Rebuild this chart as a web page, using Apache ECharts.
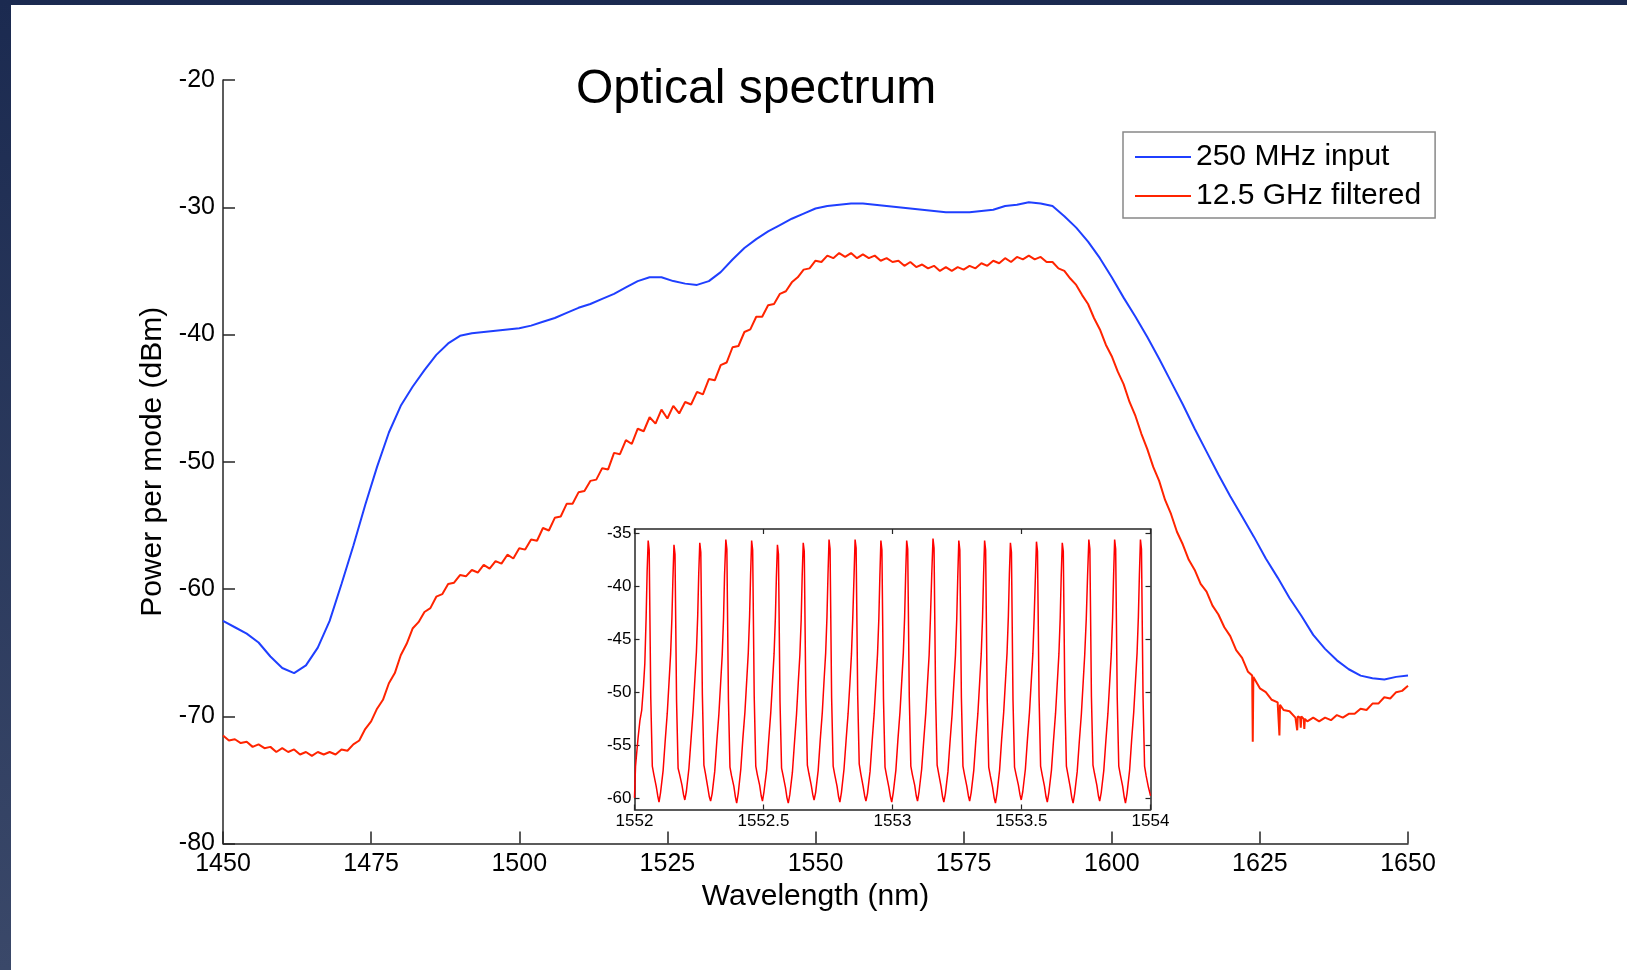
<!DOCTYPE html>
<html>
<head>
<meta charset="utf-8">
<title>Optical spectrum</title>
<script src="https://cdn.jsdelivr.net/npm/echarts@6/dist/echarts.min.js"></script>
<style>
  html, body { margin:0; padding:0; width:1627px; height:970px; overflow:hidden;
    background: linear-gradient(to bottom, #1b2a50, #3a4869); }
  #paper { position:absolute; left:11px; top:5px; right:0; bottom:0; background:#fff; }
  #chart { position:absolute; left:0; top:0; width:1627px; height:970px; }
</style>
</head>
<body>
<div id="paper"></div>
<div id="chart"></div>
<script>
// 250 MHz input (blue), read every 2 nm
var blueWl = [1450,1452,1454,1456,1458,1460,1462,1464,1466,1468,
  1470,1472,1474,1476,1478,1480,1482,1484,1486,1488,
  1490,1492,1494,1496,1498,1500,1502,1504,1506,1508,
  1510,1512,1514,1516,1518,1520,1522,1524,1526,1528,
  1530,1532,1534,1536,1538,1540,1542,1544,1546,1548,
  1550,1552,1554,1556,1558,1560,1562,1564,1566,1568,
  1570,1572,1574,1576,1578,1580,1582,1584,1586,1588,
  1590,1592,1594,1596,1598,1600,1602,1604,1606,1608,
  1610,1612,1614,1616,1618,1620,1622,1624,1626,1628,
  1630,1632,1634,1636,1638,1640,1642,1644,1646,1648,
  1650];
var blueDbm = [-62.5,-63.0,-63.5,-64.2,-65.3,-66.2,-66.6,-66.0,-64.6,-62.5,
  -59.6,-56.6,-53.4,-50.4,-47.7,-45.6,-44.1,-42.8,-41.6,-40.7,
  -40.1,-39.9,-39.8,-39.7,-39.6,-39.5,-39.3,-39.0,-38.7,-38.3,
  -37.9,-37.6,-37.2,-36.8,-36.3,-35.8,-35.5,-35.5,-35.8,-36.0,
  -36.1,-35.8,-35.1,-34.1,-33.2,-32.5,-31.9,-31.4,-30.9,-30.5,
  -30.1,-29.9,-29.8,-29.7,-29.7,-29.8,-29.9,-30.0,-30.1,-30.2,
  -30.3,-30.4,-30.4,-30.4,-30.3,-30.2,-29.9,-29.8,-29.6,-29.7,
  -29.9,-30.7,-31.6,-32.7,-34.0,-35.5,-37.1,-38.6,-40.2,-41.9,
  -43.7,-45.5,-47.4,-49.2,-51.0,-52.7,-54.3,-55.9,-57.6,-59.1,
  -60.7,-62.1,-63.6,-64.7,-65.6,-66.3,-66.8,-67.0,-67.1,-66.9,
  -66.8];

// 12.5 GHz filtered (red), read every 1 nm plus the narrow dips near 1625-1633 nm
var redWl = [1450,1451,1452,1453,1454,1455,1456,1457,1458,1459,
  1460,1461,1462,1463,1464,1465,1466,1467,1468,1469,
  1470,1471,1472,1473,1474,1475,1476,1477,1478,1479,
  1480,1481,1482,1483,1484,1485,1486,1487,1488,1489,
  1490,1491,1492,1493,1494,1495,1496,1497,1498,1499,
  1500,1501,1502,1503,1504,1505,1506,1507,1508,1509,
  1510,1511,1512,1513,1514,1515,1516,1517,1518,1519,
  1520,1521,1522,1523,1524,1525,1526,1527,1528,1529,
  1530,1531,1532,1533,1534,1535,1536,1537,1538,1539,
  1540,1541,1542,1543,1544,1545,1546,1547,1548,1549,
  1550,1551,1552,1553,1554,1555,1556,1557,1558,1559,
  1560,1561,1562,1563,1564,1565,1566,1567,1568,1569,
  1570,1571,1572,1573,1574,1575,1576,1577,1578,1579,
  1580,1581,1582,1583,1584,1585,1586,1587,1588,1589,
  1590,1591,1592,1593,1594,1595,1596,1597,1598,1599,
  1600,1601,1602,1603,1604,1605,1606,1607,1608,1609,
  1610,1611,1612,1613,1614,1615,1616,1617,1618,1619,
  1620,1621,1622,1623,1623.7,1623.8,1623.9,
  1624,1625,1626,1627,1628,1628.2,1628.3,1628.4,
  1629,1630,1631,1631.2,1631.3,1631.4,1631.8,1631.9,1632,1632.4,1632.5,1632.6,
  1633,1634,1635,1636,1637,1638,1639,1640,1641,1642,
  1643,1644,1645,1646,1647,1648,1649,1650];
var redDbm = [-71.5,-71.9,-71.8,-72.1,-72.0,-72.4,-72.2,-72.5,-72.4,-72.8,
  -72.5,-72.8,-72.6,-73.0,-72.8,-73.1,-72.8,-73.0,-72.8,-73.0,
  -72.6,-72.7,-72.2,-71.9,-71.0,-70.4,-69.4,-68.7,-67.4,-66.6,
  -65.2,-64.3,-63.1,-62.6,-61.8,-61.5,-60.6,-60.4,-59.6,-59.5,
  -58.9,-59.0,-58.5,-58.7,-58.1,-58.4,-57.8,-58.0,-57.3,-57.6,
  -56.8,-56.9,-56.1,-56.2,-55.2,-55.4,-54.4,-54.3,-53.3,-53.3,
  -52.4,-52.3,-51.5,-51.4,-50.5,-50.6,-49.3,-49.4,-48.3,-48.6,
  -47.4,-47.6,-46.5,-47.0,-45.9,-46.6,-45.6,-46.2,-45.3,-45.5,
  -44.5,-44.7,-43.5,-43.6,-42.4,-42.2,-41.0,-40.9,-39.8,-39.6,
  -38.6,-38.6,-37.7,-37.6,-36.8,-36.6,-35.9,-35.5,-34.9,-34.8,
  -34.2,-34.3,-33.8,-34.0,-33.6,-33.9,-33.6,-34.0,-33.7,-34.0,
  -33.8,-34.2,-34.0,-34.3,-34.2,-34.6,-34.3,-34.7,-34.5,-34.8,
  -34.6,-35.0,-34.7,-35.0,-34.7,-34.9,-34.6,-34.8,-34.4,-34.6,
  -34.2,-34.4,-34.0,-34.3,-33.9,-34.1,-33.8,-34.1,-33.9,-34.3,
  -34.3,-34.8,-35.0,-35.6,-36.1,-36.9,-37.6,-38.7,-39.6,-40.8,
  -41.7,-42.9,-43.9,-45.3,-46.4,-47.8,-49.0,-50.4,-51.5,-53.0,
  -54.1,-55.5,-56.5,-57.7,-58.5,-59.6,-60.2,-61.3,-62.0,-63.0,
  -63.7,-64.8,-65.4,-66.5,-66.8,-72.0,-66.9,
  -66.9,-67.8,-68.1,-68.7,-68.9,-69.0,-71.5,-69.1,
  -69.5,-69.6,-70.1,-70.0,-71.1,-70.0,-70.1,-70.9,-70.0,-70.2,-71.0,-70.2,
  -70.4,-70.1,-70.4,-70.1,-70.3,-69.9,-70.1,-69.8,-69.8,-69.4,
  -69.5,-69.0,-69.0,-68.5,-68.6,-68.1,-68.0,-67.6];

// inset: 1552 - 1554 nm, one line per mode (12.5 GHz ~ 0.1 nm)
var insetWl = [1552.000,1552.004,1552.008,1552.014,1552.021,1552.028,1552.035,1552.040,1552.045,1552.049,
  1552.053,1552.057,1552.063,1552.069,1552.075,1552.084,1552.090,1552.095,1552.101,1552.111,1552.119,1552.127,1552.134,1552.140,1552.145,1552.149,
  1552.153,1552.157,1552.163,1552.169,1552.175,1552.184,1552.190,1552.195,1552.201,1552.211,1552.219,1552.227,1552.234,1552.240,1552.245,1552.249,
  1552.253,1552.257,1552.263,1552.269,1552.275,1552.284,1552.290,1552.295,1552.301,1552.311,1552.319,1552.327,1552.334,1552.340,1552.345,1552.349,
  1552.354,1552.358,1552.364,1552.370,1552.376,1552.385,1552.391,1552.396,1552.402,1552.412,1552.420,1552.428,1552.435,1552.441,1552.446,1552.450,
  1552.454,1552.458,1552.464,1552.470,1552.476,1552.485,1552.491,1552.496,1552.502,1552.512,1552.520,1552.528,1552.535,1552.541,1552.546,1552.550,
  1552.554,1552.558,1552.564,1552.570,1552.576,1552.585,1552.591,1552.596,1552.602,1552.612,1552.620,1552.628,1552.635,1552.641,1552.646,1552.650,
  1552.654,1552.658,1552.664,1552.670,1552.676,1552.685,1552.691,1552.696,1552.702,1552.712,1552.720,1552.728,1552.735,1552.741,1552.746,1552.750,
  1552.754,1552.758,1552.764,1552.770,1552.776,1552.785,1552.791,1552.796,1552.802,1552.812,1552.820,1552.828,1552.835,1552.841,1552.846,1552.851,
  1552.855,1552.859,1552.865,1552.871,1552.877,1552.886,1552.892,1552.897,1552.903,1552.913,1552.921,1552.929,1552.936,1552.942,1552.947,1552.951,
  1552.955,1552.959,1552.965,1552.971,1552.977,1552.986,1552.992,1552.997,1553.003,1553.013,1553.021,1553.029,1553.036,1553.042,1553.047,1553.051,
  1553.055,1553.059,1553.065,1553.071,1553.077,1553.086,1553.092,1553.097,1553.103,1553.113,1553.121,1553.129,1553.136,1553.142,1553.147,1553.152,
  1553.157,1553.161,1553.167,1553.173,1553.179,1553.188,1553.194,1553.199,1553.205,1553.215,1553.223,1553.231,1553.238,1553.244,1553.249,1553.253,
  1553.257,1553.261,1553.267,1553.273,1553.279,1553.288,1553.294,1553.299,1553.305,1553.315,1553.323,1553.331,1553.338,1553.344,1553.349,1553.353,
  1553.357,1553.361,1553.367,1553.373,1553.379,1553.388,1553.394,1553.399,1553.405,1553.415,1553.423,1553.431,1553.438,1553.444,1553.449,1553.453,
  1553.457,1553.461,1553.467,1553.473,1553.479,1553.488,1553.494,1553.499,1553.505,1553.515,1553.523,1553.531,1553.538,1553.544,1553.549,1553.554,
  1553.558,1553.562,1553.568,1553.574,1553.580,1553.589,1553.595,1553.600,1553.606,1553.616,1553.624,1553.632,1553.639,1553.645,1553.650,1553.654,
  1553.658,1553.662,1553.668,1553.674,1553.680,1553.689,1553.695,1553.700,1553.706,1553.716,1553.724,1553.732,1553.739,1553.745,1553.751,1553.756,
  1553.761,1553.765,1553.771,1553.777,1553.783,1553.792,1553.798,1553.803,1553.809,1553.819,1553.827,1553.835,1553.842,1553.848,1553.853,1553.857,
  1553.861,1553.865,1553.871,1553.877,1553.883,1553.892,1553.898,1553.903,1553.909,1553.919,1553.927,1553.935,1553.942,1553.948,1553.953,1553.957,
  1553.961,1553.965,1553.971,1553.977,1553.983,1553.992,1553.998,1554.000];
var insetDbm = [-60.0,-57.0,-55.9,-54.3,-52.7,-51.7,-49.4,-47.3,-43.0,-38.6,
  -35.7,-36.6,-50.5,-57.0,-57.8,-58.9,-59.8,-60.4,-59.5,-57.4,-54.6,-52.0,-49.0,-46.4,-43.0,-39.2,
  -36.1,-37.0,-50.8,-57.2,-57.8,-58.8,-59.7,-60.2,-59.4,-57.2,-54.5,-51.8,-48.8,-46.2,-42.8,-38.8,
  -35.9,-36.8,-50.2,-56.9,-57.7,-59.0,-59.9,-60.3,-59.6,-57.5,-54.7,-52.1,-49.1,-46.5,-43.1,-39.0,
  -35.6,-36.5,-50.6,-57.1,-57.9,-58.9,-59.9,-60.5,-59.6,-57.3,-54.4,-51.9,-48.9,-46.3,-42.9,-38.9,
  -35.7,-36.6,-50.4,-57.0,-57.8,-58.8,-59.8,-60.3,-59.4,-57.4,-54.6,-52.0,-49.0,-46.4,-43.0,-39.1,
  -36.1,-37.0,-50.9,-57.2,-57.9,-59.0,-60.0,-60.5,-59.7,-57.6,-54.8,-52.1,-49.0,-46.5,-43.2,-39.0,
  -35.9,-36.7,-50.3,-56.9,-57.7,-58.8,-59.7,-60.2,-59.5,-57.4,-54.5,-51.9,-48.8,-46.3,-42.9,-38.9,
  -35.6,-36.5,-50.5,-57.0,-57.8,-58.9,-59.9,-60.4,-59.5,-57.3,-54.6,-52.0,-49.1,-46.4,-43.0,-39.0,
  -35.6,-36.4,-50.2,-56.8,-57.7,-58.9,-59.8,-60.3,-59.6,-57.5,-54.7,-52.0,-49.0,-46.4,-43.1,-39.1,
  -35.7,-36.6,-50.6,-57.1,-57.9,-59.0,-59.9,-60.4,-59.5,-57.4,-54.5,-51.9,-48.9,-46.3,-42.9,-38.9,
  -35.7,-36.5,-50.4,-57.0,-57.8,-58.8,-59.8,-60.3,-59.4,-57.3,-54.6,-52.0,-49.0,-46.5,-43.0,-39.0,
  -35.5,-36.4,-50.3,-56.9,-57.7,-58.9,-59.9,-60.4,-59.6,-57.5,-54.7,-52.1,-49.1,-46.5,-43.1,-39.1,
  -35.7,-36.6,-50.5,-57.0,-57.8,-58.9,-59.8,-60.3,-59.5,-57.4,-54.6,-52.0,-49.0,-46.4,-43.0,-39.0,
  -35.7,-36.6,-50.6,-57.1,-57.9,-59.0,-60.0,-60.5,-59.6,-57.4,-54.5,-51.9,-48.9,-46.3,-42.9,-38.9,
  -35.9,-36.8,-50.7,-57.1,-57.8,-58.8,-59.7,-60.2,-59.4,-57.3,-54.5,-51.9,-48.9,-46.4,-43.0,-39.0,
  -35.8,-36.7,-50.4,-57.0,-57.8,-58.9,-59.9,-60.4,-59.5,-57.4,-54.6,-52.0,-49.0,-46.4,-43.0,-39.0,
  -35.9,-36.7,-50.5,-57.0,-57.8,-59.0,-60.0,-60.5,-59.6,-57.5,-54.7,-52.1,-49.1,-46.5,-43.1,-39.1,
  -35.6,-36.5,-50.4,-56.9,-57.7,-58.8,-59.8,-60.3,-59.5,-57.4,-54.6,-52.0,-49.0,-46.4,-43.0,-39.0,
  -35.6,-36.5,-50.5,-57.0,-57.8,-58.9,-59.9,-60.5,-59.6,-57.4,-54.5,-51.9,-48.9,-46.3,-42.9,-38.9,
  -35.6,-36.5,-50.4,-57.0,-57.9,-59.0,-59.6,-59.8];

var insetYTicks = [-60, -55, -50, -45, -40, -35];

var font = 'Liberation Sans, Arial, Helvetica, sans-serif';
var axisColor = '#262626';

function pairs(xs, ys) {
  return xs.map(function (x, i) { return [x, ys[i]]; });
}
// plain numbers, no thousands separator
function plain(v) { return String(v); }

var myChart = echarts.init(document.getElementById('chart'));

var option = {
  animation: false,
  backgroundColor: 'transparent',
  title: {
    text: 'Optical spectrum',
    left: 576,
    top: 66,
    padding: 0,
    textStyle: { fontSize: 48, fontWeight: 'normal', color: '#000', fontFamily: font }
  },
  legend: {
    data: ['250 MHz input', '12.5 GHz filtered'],
    orient: 'vertical',
    left: 1123,
    top: 132,
    padding: [10, 14, 7, 12],
    itemGap: 9,
    itemWidth: 56,
    itemHeight: 2,
    icon: 'rect',
    selectedMode: false,
    backgroundColor: '#fff',
    borderColor: '#888',
    borderWidth: 1.5,
    textStyle: { fontSize: 30, color: '#000', fontFamily: font }
  },
  grid: [
    { left: 223, top: 80, width: 1185, height: 763.6 },
    { left: 634.5, top: 529, width: 516, height: 280.5 }
  ],
  xAxis: [
    {
      gridIndex: 0, type: 'value', min: 1450, max: 1650, interval: 25,
      name: 'Wavelength (nm)', nameLocation: 'middle', nameGap: 38,
      nameTextStyle: { fontSize: 30, color: '#000', fontFamily: font },
      axisLine: { show: true, onZero: false, lineStyle: { color: axisColor, width: 1.5 } },
      axisTick: { inside: true, length: 12, lineStyle: { color: axisColor, width: 1.5 } },
      axisLabel: { margin: 8, fontSize: 25, color: '#000', fontFamily: font, formatter: plain },
      splitLine: { show: false }
    },
    {
      gridIndex: 1, type: 'value', min: 1552, max: 1554, interval: 0.5, position: 'bottom',
      axisLine: { show: true, onZero: false, lineStyle: { color: axisColor, width: 1.5 } },
      axisTick: { inside: true, length: 5, lineStyle: { color: axisColor, width: 1.2 } },
      axisLabel: { margin: 3, fontSize: 17, color: '#000', fontFamily: font, formatter: plain },
      splitLine: { show: false }
    },
    {
      gridIndex: 1, type: 'value', min: 1552, max: 1554, interval: 0.5, position: 'top',
      axisLine: { show: true, onZero: false, lineStyle: { color: axisColor, width: 1.5 } },
      axisTick: { inside: true, length: 5, lineStyle: { color: axisColor, width: 1.2 } },
      axisLabel: { show: false },
      splitLine: { show: false }
    }
  ],
  yAxis: [
    {
      gridIndex: 0, type: 'value', min: -80, max: -20, interval: 10,
      name: 'Power per mode (dBm)', nameLocation: 'middle', nameRotate: 90, nameGap: 51,
      nameTextStyle: { fontSize: 30, color: '#000', fontFamily: font },
      axisLine: { show: true, onZero: false, lineStyle: { color: axisColor, width: 1.5 } },
      axisTick: { inside: true, length: 12, lineStyle: { color: axisColor, width: 1.5 } },
      axisLabel: { margin: 8, fontSize: 25, color: '#000', fontFamily: font, formatter: plain },
      splitLine: { show: false }
    },
    {
      gridIndex: 1, type: 'value', min: -61.1, max: -34.6, position: 'left',
      axisLine: { show: true, onZero: false, lineStyle: { color: axisColor, width: 1.5 } },
      axisTick: { inside: true, length: 5, customValues: insetYTicks, lineStyle: { color: axisColor, width: 1.2 } },
      axisLabel: { margin: 3, fontSize: 17, color: '#000', fontFamily: font, customValues: insetYTicks, formatter: plain },
      splitLine: { show: false }
    },
    {
      gridIndex: 1, type: 'value', min: -61.1, max: -34.6, position: 'right',
      axisLine: { show: true, onZero: false, lineStyle: { color: axisColor, width: 1.5 } },
      axisTick: { inside: true, length: 5, customValues: insetYTicks, lineStyle: { color: axisColor, width: 1.2 } },
      axisLabel: { show: false },
      splitLine: { show: false }
    }
  ],
  series: [
    {
      name: '250 MHz input', type: 'line', xAxisIndex: 0, yAxisIndex: 0,
      symbol: 'none', showSymbol: false,
      itemStyle: { color: '#1f3fff' },
      lineStyle: { color: '#1f3fff', width: 2 },
      data: pairs(blueWl, blueDbm)
    },
    {
      name: '12.5 GHz filtered', type: 'line', xAxisIndex: 0, yAxisIndex: 0,
      symbol: 'none', showSymbol: false,
      itemStyle: { color: '#ff2400' },
      lineStyle: { color: '#ff2400', width: 2 },
      data: pairs(redWl, redDbm)
    },
    {
      name: 'inset', type: 'line', xAxisIndex: 1, yAxisIndex: 1,
      symbol: 'none', showSymbol: false, clip: true,
      lineStyle: { color: '#ff0000', width: 1.5 },
      data: pairs(insetWl, insetDbm)
    }
  ]
};

myChart.setOption(option, true);
window.addEventListener('resize', function () {
  myChart.resize();
});
</script>
</body>
</html>
